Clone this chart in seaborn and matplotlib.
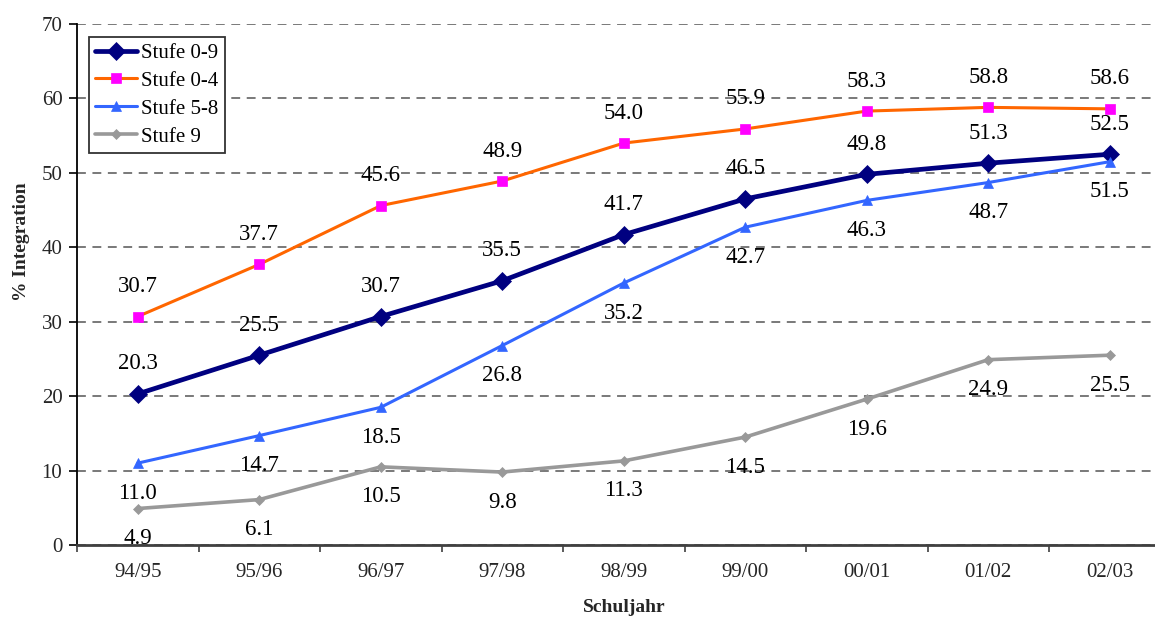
import matplotlib
matplotlib.use("Agg")
import matplotlib.pyplot as plt
import seaborn as sns
import numpy as np

# School years (x categories)
schuljahre = ["94/95", "95/96", "96/97", "97/98", "98/99", "99/00", "00/01", "01/02", "02/03"]

# Integration rate in percent per school level
stufe_0_9 = [20.3, 25.5, 30.7, 35.5, 41.7, 46.5, 49.8, 51.3, 52.5]
stufe_0_4 = [30.7, 37.7, 45.6, 48.9, 54.0, 55.9, 58.3, 58.8, 58.6]
stufe_5_8 = [11.0, 14.7, 18.5, 26.8, 35.2, 42.7, 46.3, 48.7, 51.5]
stufe_9 = [4.9, 6.1, 10.5, 9.8, 11.3, 14.5, 19.6, 24.9, 25.5]

y_ticks = [0, 10, 20, 30, 40, 50, 60, 70]

sns.set_style("white")
plt.rcParams["font.family"] = ["Liberation Serif", "DejaVu Serif"]
plt.rcParams["text.color"] = "black"

fig = plt.figure(figsize=(11.55, 6.19), dpi=100)
ax = fig.add_axes([77 / 1155, 74 / 619, 1093.5 / 1155, 521 / 619])

x = np.arange(len(schuljahre))

# (label, values, line colour, line width, marker, marker size, marker colour, label side)
series = [
    ("Stufe 0-9", stufe_0_9, "#000080", 3.4, "D", 9.5, "#000080", 1),
    ("Stufe 0-4", stufe_0_4, "#FF6600", 2.2, "s", 6.5, "#FF00FF", 1),
    ("Stufe 5-8", stufe_5_8, "#3366FF", 2.2, "^", 7.5, "#3366FF", -1),
    ("Stufe 9", stufe_9, "#999999", 2.6, "D", 5.5, "#999999", -1),
]

for name, vals, col, lw, mk, ms, mcol, side in series:
    sns.lineplot(x=x, y=vals, ax=ax, color=col, linewidth=lw, marker=mk,
                 markersize=ms, markerfacecolor=mcol, markeredgecolor=mcol,
                 markeredgewidth=0.5, label=name, zorder=3)
    for xi, v in zip(x, vals):
        ax.annotate(f"{v:.1f}", (xi, v), xytext=(0, side * 21.6),
                    textcoords="offset points", ha="center", va="center",
                    fontsize=16.5, color="black", zorder=4)

ax.set_xlim(-0.5, len(schuljahre) - 0.5)
ax.set_ylim(0, 70)
ax.set_yticks(y_ticks)
ax.set_xticks(x)
ax.set_xticklabels(schuljahre)
ax.set_xticks(np.arange(-0.5, len(schuljahre), 1.0), minor=True)

ax.tick_params(axis="x", which="major", length=0, pad=13, labelsize=15)
ax.tick_params(axis="x", which="minor", direction="out", length=5, width=1.2,
               color="#404040", bottom=True)
ax.tick_params(axis="y", which="major", direction="out", length=5.5, width=1.2,
               color="black", pad=5, labelsize=15, left=True)

ax.yaxis.grid(True, linestyle=(0, (5.8, 4.3)), color="#555555", linewidth=1.1)
ax.xaxis.grid(False)
ax.set_axisbelow(True)

for s in ["top", "right"]:
    ax.spines[s].set_visible(False)
ax.spines["left"].set_color("black")
ax.spines["left"].set_linewidth(1.3)
ax.spines["bottom"].set_color("#404040")
ax.spines["bottom"].set_linewidth(2.0)

ax.set_xlabel("Schuljahr", fontsize=14, fontweight="bold")
ax.set_ylabel("% Integration", fontsize=14, fontweight="bold")
ax.xaxis.set_label_coords(0.5, (545 - 608) / 521)
ax.xaxis.label.set_va("center")
ax.yaxis.set_label_coords((22 - 77) / 1093.5, (545 - 242) / 521)
ax.yaxis.label.set_va("center")

leg = ax.legend(loc="upper left", bbox_to_anchor=((89 - 77) / 1093.5, (545 - 37) / 521),
                borderaxespad=0, fontsize=15, handlelength=2.0, handletextpad=0.2,
                labelspacing=0.4, borderpad=0.3, fancybox=False, framealpha=1,
                edgecolor="#333333")
leg.get_frame().set_linewidth(1.3)

fig.savefig("out.png", dpi=100, facecolor="white")
